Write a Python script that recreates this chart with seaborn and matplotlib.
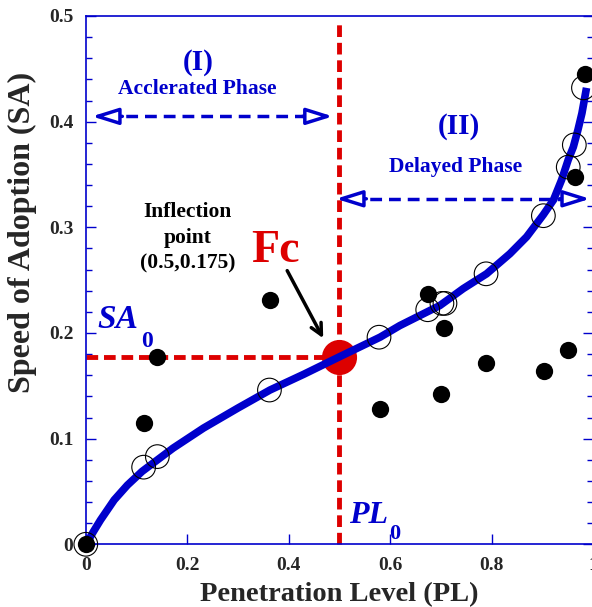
import pandas as pd
import seaborn as sns
import matplotlib
matplotlib.use("Agg")
import matplotlib.pyplot as plt
from matplotlib.ticker import MultipleLocator

# fitted S-curve
curve_pl = [0, 0.003, 0.015, 0.029, 0.056, 0.082, 0.111, 0.172, 0.232, 0.30, 0.363, 0.43,
            0.498, 0.580, 0.619, 0.698, 0.744, 0.790, 0.836, 0.869, 0.902, 0.922, 0.938,
            0.951, 0.961, 0.970, 0.978, 0.987]
curve_sa = [0, 0.002, 0.012, 0.023, 0.042, 0.056, 0.069, 0.091, 0.110, 0.129, 0.146, 0.161,
            0.177, 0.196, 0.207, 0.226, 0.242, 0.256, 0.275, 0.291, 0.312, 0.326, 0.345,
            0.364, 0.376, 0.392, 0.408, 0.432]

# model values (open circles)
fit_pl = [0, 0.114, 0.141, 0.362, 0.578, 0.674, 0.702, 0.708, 0.789, 0.902, 0.951, 0.963, 0.981]
fit_sa = [0, 0.073, 0.083, 0.146, 0.196, 0.222, 0.228, 0.228, 0.256, 0.311, 0.357, 0.378, 0.432]

# observed values (filled dots)
obs_pl = [0, 0.114, 0.141, 0.363, 0.579, 0.675, 0.700, 0.707, 0.789, 0.903, 0.951, 0.964, 0.984]
obs_sa = [0, 0.115, 0.177, 0.231, 0.128, 0.237, 0.142, 0.205, 0.172, 0.164, 0.184, 0.348, 0.445]

pl0, sa0 = 0.5, 0.177
x_ticks = [0, 0.2, 0.4, 0.6, 0.8, 1]
x_labels = ["0", "0.2", "0.4", "0.6", "0.8", "1"]
y_ticks = [0, 0.1, 0.2, 0.3, 0.4, 0.5]
y_labels = ["0", "0.1", "0.2", "0.3", "0.4", "0.5"]

BLUE = "#0000CC"
RED = "#DD0000"

sns.set_style("ticks")
plt.rcParams['font.family'] = ['Liberation Serif', 'DejaVu Serif']
plt.rcParams['font.weight'] = 'bold'

fig = plt.figure(figsize=(5.92, 6.07), dpi=100)
ax = fig.add_axes([85.8 / 592, (607 - 544.3) / 607, 507.3 / 592, 528.3 / 607])

# reference lines at the inflection point
ax.plot([0, pl0], [sa0, sa0], color=RED, lw=3.5, ls=(0, (2.4, 1.2)), zorder=2, clip_on=False)
ax.plot([pl0, pl0], [0, 0.494], color=RED, lw=3.5, ls=(0, (2.4, 1.2)), zorder=2, clip_on=False)
ax.scatter([pl0], [sa0], s=640, color=RED, zorder=3, linewidths=0)

curve_df = pd.DataFrame({'pl': curve_pl, 'sa': curve_sa})
sns.lineplot(x='pl', y='sa', data=curve_df, color=BLUE, linewidth=5.5, ax=ax,
             sort=False, zorder=4, solid_capstyle='butt', solid_joinstyle='round')

sns.scatterplot(x=fit_pl, y=fit_sa, s=290, marker='o', facecolors='none',
                edgecolor='black', linewidth=0.8, ax=ax, zorder=5, clip_on=False)
sns.scatterplot(x=obs_pl, y=obs_sa, s=155, color='black', linewidth=0,
                ax=ax, zorder=6, clip_on=False)

# phase arrows
def phase_arrow(x0, x1, y):
    ax.plot([x0 + 0.03, x1 - 0.03], [y, y], color=BLUE, lw=2.5, ls=(0, (3.4, 2.0)), zorder=3)
    for a, b in [(x0 + 0.06, x0), (x1 - 0.06, x1)]:
        ax.annotate('', xy=(b, y), xytext=(a, y),
                    arrowprops=dict(arrowstyle='-|>,head_length=0.8,head_width=0.25',
                                    fc='white', ec=BLUE, lw=2.5, shrinkA=0, shrinkB=0,
                                    mutation_scale=20),
                    zorder=3)

phase_arrow(0.012, 0.487, 0.405)
phase_arrow(0.493, 0.994, 0.327)

ax.text(0.221, 0.456, "(I)", color=BLUE, fontsize=21, ha='center', va='center')
ax.text(0.219, 0.431, "Acclerated Phase", color=BLUE, fontsize=15.5, ha='center', va='center')
ax.text(0.736, 0.395, "(II)", color=BLUE, fontsize=21, ha='center', va='center')
ax.text(0.728, 0.357, "Delayed Phase", color=BLUE, fontsize=15.5, ha='center', va='center')

ax.text(0.201, 0.290, "Inflection\npoint\n(0.5,0.175)", color='black', fontsize=15.5,
        ha='center', va='center', linespacing=1.4)
ax.text(0.374, 0.267, "Fc", color=RED, fontsize=33, ha='center', va='baseline')
ax.annotate('', xy=(0.468, 0.195), xytext=(0.397, 0.259),
            arrowprops=dict(arrowstyle='->,head_length=0.8,head_width=0.4',
                            color='black', lw=2.5, shrinkA=0, shrinkB=0), zorder=7)

ax.text(0.0625, 0.205, "SA", color=BLUE, fontsize=24, style='italic', ha='center', va='baseline')
ax.text(0.121, 0.187, "0", color=BLUE, fontsize=17, ha='center', va='baseline')
ax.text(0.558, 0.020, "PL", color=BLUE, fontsize=23, style='italic', ha='center', va='baseline')
ax.text(0.609, 0.005, "0", color=BLUE, fontsize=16, ha='center', va='baseline')

ax.set_xlim(0, 1)
ax.set_ylim(0, 0.5)
ax.set_xticks(x_ticks)
ax.set_xticklabels(x_labels)
ax.set_yticks(y_ticks)
ax.set_yticklabels(y_labels)
ax.yaxis.set_minor_locator(MultipleLocator(0.02))
ax.tick_params(which='both', direction='in', color=BLUE, width=1, right=True, top=False,
               labelsize=14, pad=9)
ax.tick_params(which='major', length=7.5)
ax.tick_params(which='minor', length=4.5)
for side in ax.spines.values():
    side.set_color(BLUE)
    side.set_linewidth(1.2)

ax.set_xlabel("Penetration Level (PL)", fontsize=20.5, fontweight='bold', labelpad=6)
ax.set_ylabel("Speed of Adoption (SA)", fontsize=23, fontweight='bold')
ax.yaxis.set_label_coords(-0.096, 0.591)

fig.savefig("out.png", dpi=100)
